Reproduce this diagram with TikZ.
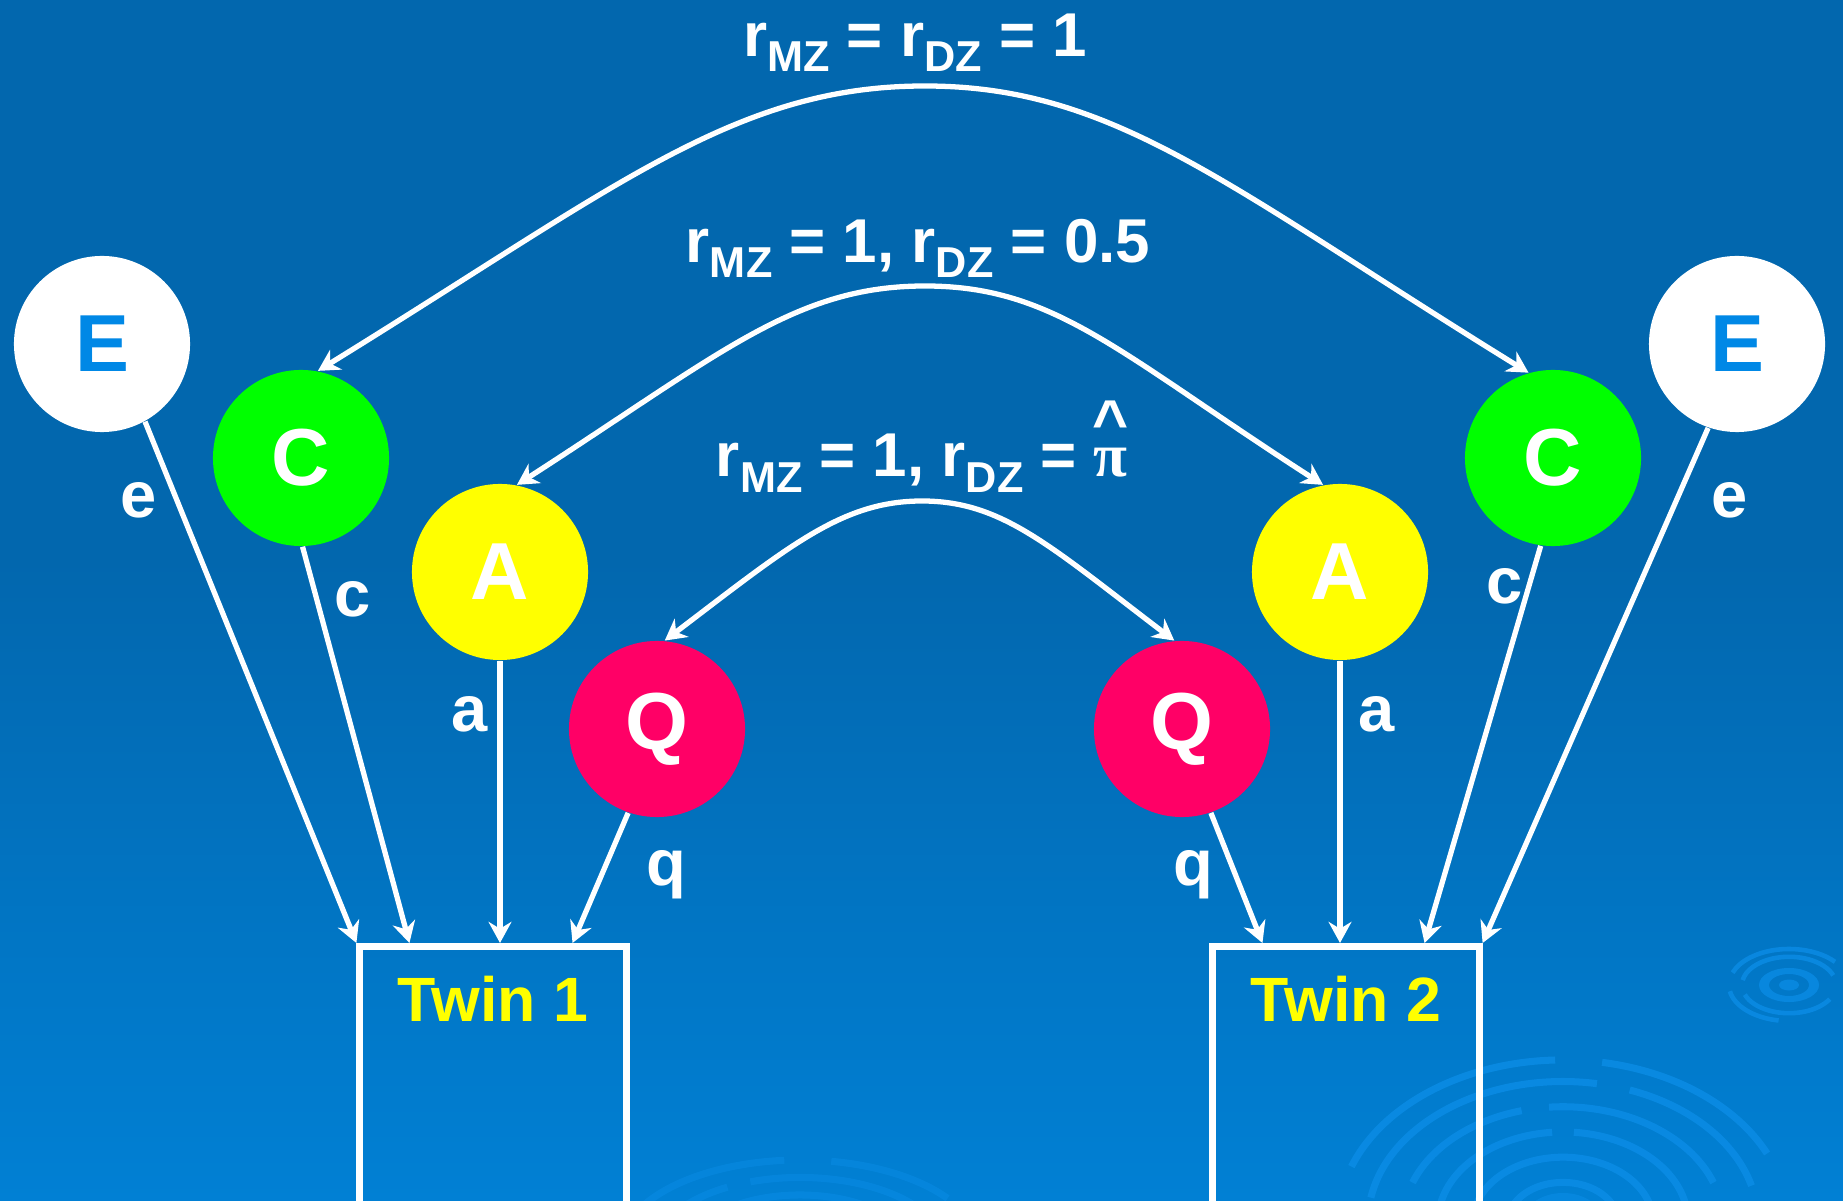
\documentclass[tikz,border=0pt]{standalone}
\usepackage{fontspec}
\setmainfont{Liberation Sans}
\newfontfamily\pifont{Liberation Serif}
\usetikzlibrary{positioning,arrows.meta}
\definecolor{SlideTop}{RGB}{2,103,174}
\definecolor{SlideBottom}{RGB}{1,128,212}
\definecolor{EnvBlue}{RGB}{0,136,230}
\definecolor{CommonGreen}{RGB}{0,255,0}
\definecolor{AddYellow}{RGB}{255,255,0}
\definecolor{QtlRed}{RGB}{255,0,102}
\definecolor{RippleBlue}{RGB}{12,142,232}
\newcommand{\rsub}[1]{r\raisebox{-0.15cm}{\fontsize{12.3}{14}\selectfont #1}}
\newcommand{\pihat}{\leavevmode\rlap{\makebox[0.32cm][c]{\raisebox{0.33cm}{\textasciicircum}}}%
  \makebox[0.32cm][c]{\pifont π}}
\tikzset{
  flow/.style={-{Stealth[length=6pt,width=6.5pt]},line width=1.5pt,draw=white},
  bothflow/.style={{Stealth[length=6pt,width=6.5pt]}-{Stealth[length=6pt,width=6.5pt]},
    line width=1.5pt,draw=white},
  factor/.style={circle,minimum size=1.76cm,inner sep=0pt,text=white,
    font=\fontsize{23}{26}\selectfont\bfseries},
  pathlbl/.style={anchor=mid,inner sep=0pt,text=white,font=\fontsize{18.5}{20}\selectfont\bfseries},
  rlbl/.style={anchor=base,inner sep=0pt,text=white,font=\fontsize{17.6}{20}\selectfont\bfseries},
  twinbox/.style={draw=white,line width=2pt,minimum width=2.66cm,minimum height=2.9cm,anchor=north},
  twinlbl/.style={inner sep=0pt,text=AddYellow,font=\fontsize{17.8}{20}\selectfont\bfseries},
  ripple/.style={draw=RippleBlue,line width=2pt,opacity=0.75}
}
\begin{document}
\begin{tikzpicture}[x=0.01cm,y=-0.01cm]
  \useasboundingbox (0,0) rectangle (1843,1201);
  \fill[SlideTop] (0,0) rectangle (1843,560);
  \fill[top color=SlideTop,bottom color=SlideBottom] (0,559) rectangle (1843,1201);
  % water ripples
  \coordinate (bigripple) at (1563,1222);
  \coordinate (smallripple) at (1789,985);
  \coordinate (lowripple) at (800,1250);
  \foreach \r/\a/\b in {2.25/25/80,2.25/92/160,1.95/15/70,1.95/80/170,1.6/20/95,1.6/105/160,
      1.25/10/85,1.25/95/170,0.9/0/180,0.55/0/180}
    \draw[ripple] ([shift={(\a:\r cm and 0.72*\r cm)}]bigripple)
      arc[start angle=\a,end angle=\b,x radius=\r cm,y radius=0.72*\r cm];
  \fill[RippleBlue,opacity=0.5] (bigripple) ellipse[x radius=0.4cm,y radius=0.29cm];
  \foreach \r/\a/\b in {1.8/35/80,1.8/95/150,1.45/20/110,1.45/120/165,1.1/30/150}
    \draw[ripple,opacity=0.45] ([shift={(\a:\r cm and 0.5*\r cm)}]lowripple)
      arc[start angle=\a,end angle=\b,x radius=\r cm,y radius=0.5*\r cm];
  \fill[RippleBlue,opacity=0.7,even odd rule] (smallripple) ellipse[x radius=0.3cm,y radius=0.17cm]
    (smallripple) ellipse[x radius=0.2cm,y radius=0.11cm];
  \fill[RippleBlue,opacity=0.7] (smallripple) ellipse[x radius=0.1cm,y radius=0.055cm];
  \foreach \r/\a/\b in {0.47/20/170,0.47/200/330,0.6/40/160,0.6/190/260}
    \draw[ripple,line width=1.3pt] ([shift={(\a:\r cm and 0.6*\r cm)}]smallripple)
      arc[start angle=\a,end angle=\b,x radius=\r cm,y radius=0.6*\r cm];
  % factors
  \node[factor,fill=white,text=EnvBlue] (E1) at (102,344) {E};
  \node[factor,fill=CommonGreen] (C1) at (301,458) {C};
  \node[factor,fill=AddYellow] (A1) at (500,572) {A};
  \node[factor,fill=QtlRed] (Q1) at (657,729) {Q};
  \node[factor,fill=QtlRed] (Q2) at (1182,729) {Q};
  \node[factor,fill=AddYellow] (A2) at (1340,572) {A};
  \node[factor,fill=CommonGreen] (C2) at (1553,458) {C};
  \node[factor,fill=white,text=EnvBlue] (E2) at (1737,344) {E};
  \node[twinbox] (twin1) at (493,943) {};
  \node[twinbox] (twin2) at (1346,943) {};
  \node[twinlbl,below=0.32cm of twin1.north] (twin1lbl) {Twin 1};
  \node[twinlbl,below=0.32cm of twin2.north] (twin2lbl) {Twin 2};
  % path coefficients
  \node[pathlbl] (e1) at (139,508) {e};
  \node[pathlbl] (c1) at (353,607) {c};
  \node[pathlbl] (a1) at (470,722) {a};
  \node[pathlbl] (q1) at (666,876) {q};
  \node[pathlbl] (q2) at (1193,876) {q};
  \node[pathlbl] (a2) at (1377,722) {a};
  \node[pathlbl] (c2) at (1505,594) {c};
  \node[pathlbl] (e2) at (1730,508) {e};
  \draw[flow] (E1.-61) -- (twin1.north west);
  \draw[flow] (C1.-89) -- ([xshift=0.53cm]twin1.north west);
  \draw[flow] (A1.south) -- (A1.south |- twin1.north);
  \draw[flow] (Q1.-109) -- ([xshift=2.16cm]twin1.north west);
  \draw[flow] (Q2.-71) -- ([xshift=0.53cm]twin2.north west);
  \draw[flow] (A2.south) -- (A2.south |- twin2.north);
  \draw[flow] (C2.-98) -- ([xshift=2.15cm]twin2.north west);
  \draw[flow] (E2.-109) -- (twin2.north east);
  % correlations
  \node[rlbl] (rC) at (915,57) {\rsub{MZ} = \rsub{DZ} = 1};
  \node[rlbl] (rA) at (918,263) {\rsub{MZ} = 1, \rsub{DZ} = 0.5};
  \node[rlbl] (rQ) at (921,477) {\rsub{MZ} = 1, \rsub{DZ} = \pihat};
  \coordinate (topC) at (925,86);
  \coordinate (topA) at (925,286);
  \coordinate (topQ) at (922,501);
  \draw[bothflow] (C1.79) .. controls +(300,-185) and +(-190,0) .. (topC)
    .. controls +(190,0) and +(-300,-185) .. (C2.106);
  \draw[bothflow] (A1.79) .. controls +(205,-132) and +(-130,0) .. (topA)
    .. controls +(130,0) and +(-205,-132) .. (A2.101);
  \draw[bothflow] (Q1.85) .. controls +(125,-95) and +(-80,0) .. (topQ)
    .. controls +(80,0) and +(-125,-95) .. (Q2.95);
\end{tikzpicture}
\end{document}
